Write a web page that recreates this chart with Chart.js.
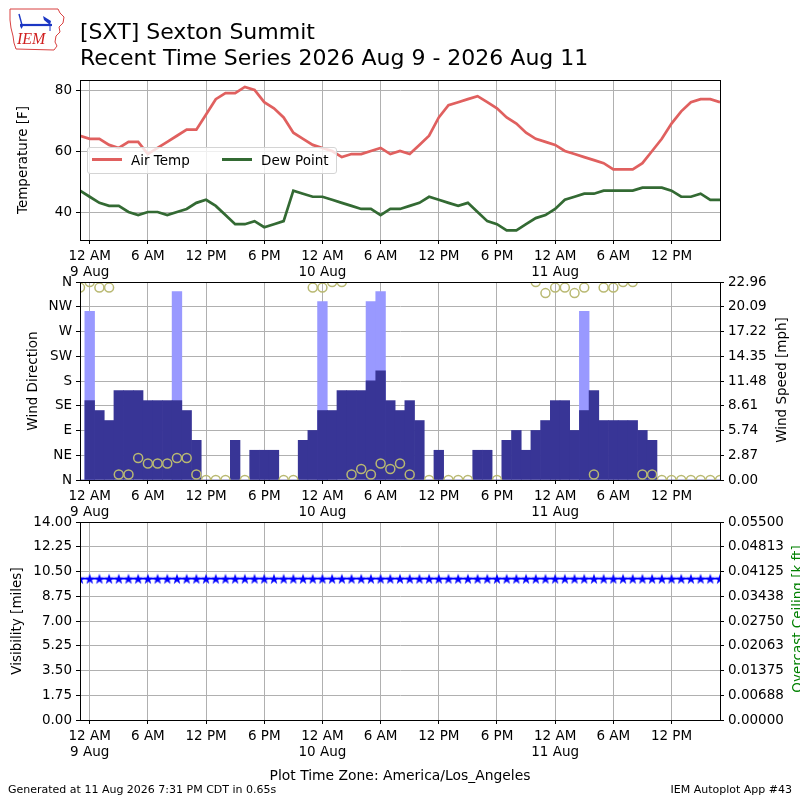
<!DOCTYPE html>
<html><head><meta charset="utf-8">
<script src="https://cdn.jsdelivr.net/npm/chart.js@4.4.1/dist/chart.umd.min.js"></script>
<style>
html,body{margin:0;padding:0;background:#fff;}
body{width:800px;height:800px;position:relative;overflow:hidden;font-family:'DejaVu Sans',sans-serif;color:#000;}
canvas{position:absolute;left:0;}
.t{position:absolute;white-space:nowrap;}
</style></head><body>
<canvas id="c1" width="800" height="300" style="top:0px"></canvas>
<canvas id="c2" width="800" height="270" style="top:270px"></canvas>
<canvas id="c3" width="800" height="270" style="top:510px"></canvas>

<svg style="position:absolute;left:8px;top:6px" width="60" height="46" viewBox="0 0 60 46">
  <path d="M2,3 L50,3 L52,7 L56,11 L55,17 L51,21 L52,26 L48,30 L47,36 L49,40 L46,44 L8,43 L6,37 L5,30 L3,22 L2,14 Z" fill="none" stroke="#d84040" stroke-width="1"/>
  <line x1="12" y1="19" x2="44" y2="19" stroke="#1b36c4" stroke-width="2.2"/>
  <line x1="11" y1="8" x2="14" y2="19" stroke="#1b36c4" stroke-width="1.4"/>
  <polygon points="35,10 43,15 42,19 36,14" fill="#1b36c4"/>
  <polygon points="12,20 15,20 13.5,23" fill="#1b36c4"/>
  <line x1="42" y1="19" x2="42" y2="25" stroke="#1b36c4" stroke-width="1"/>
  <text x="9" y="38" font-family="Liberation Serif" font-style="italic" font-size="16" fill="#d02020">IEM</text>
</svg>

<div class="t" id="title" style="left:80px;top:18.7px;font-size:22px;line-height:26px;">[SXT] Sexton Summit<br>Recent Time Series 2026 Aug 9 - 2026 Aug 11</div>

<div id="legend" style="position:absolute;left:87px;top:147px;width:250px;height:27px;box-sizing:border-box;background:rgba(255,255,255,0.8);border:1px solid #d4d4d4;border-radius:3px;font-size:13.5px;">
  <span style="position:absolute;left:4px;top:10px;width:30px;height:3px;background:#e0605f"></span>
  <span class="t" style="left:43px;top:0;line-height:25px;">Air Temp</span>
  <span style="position:absolute;left:134px;top:10px;width:30px;height:3px;background:#336a33"></span>
  <span class="t" style="left:173px;top:0;line-height:25px;">Dew Point</span>
</div>

<div class="t" style="left:781px;top:380px;font-size:13.5px;transform:translate(-50%,-50%) rotate(-90deg);">Wind Speed [mph]</div>
<div class="t" style="left:797px;top:619px;font-size:13.5px;color:#008000;transform:translate(-50%,-50%) rotate(-90deg);">Overcast Ceiling [k ft]</div>

<div class="t" style="left:0;width:800px;text-align:center;top:767px;font-size:13.9px;line-height:16px;">Plot Time Zone: America/Los_Angeles</div>
<div class="t" style="left:8px;top:783px;font-size:11px;line-height:13px;">Generated at 11 Aug 2026 7:31 PM CDT in 0.65s</div>
<div class="t" style="right:8px;top:783px;font-size:11px;line-height:13px;">IEM Autoplot App #43</div>

<script>
// ---- data (hours relative to 12 AM 9 Aug, America/Los_Angeles) ----
const hours = [-1,0,1,2,3,4,5,6,7,8,9,10,11,12,13,14,15,16,17,18,19,20,21,22,23,24,25,26,27,28,29,30,31,32,33,34,35,36,37,38,39,40,41,42,43,44,45,46,47,48,49,50,51,52,53,54,55,56,57,58,59,60,61,62,63,64,65];
const airTemp = [65,64,64,62,61,63,63,59,61,63,65,67,67,72,77,79,79,81,80,76,74,71,66,64,62,61,60,58,59,59,60,61,59,60,59,62,65,71,75,76,77,78,76,74,71,69,66,64,63,62,60,59,58,57,56,54,54,54,56,60,64,69,73,76,77,77,76];
const dewPoint = [47,45,43,42,42,40,39,40,40,39,40,41,43,44,42,39,36,36,37,35,36,37,47,46,45,45,44,43,42,41,41,39,41,41,42,43,45,44,43,42,43,40,37,36,34,34,36,38,39,41,44,45,46,46,47,47,47,47,48,48,48,47,45,45,46,44,44];
const windSpeed = [0,9.21,8.06,6.90,10.36,10.36,10.36,9.21,9.21,9.21,9.21,8.06,4.60,0,0,0,4.60,0,3.45,3.45,3.45,0,0,4.60,5.75,8.06,8.06,10.36,10.36,10.36,11.51,12.66,9.21,8.06,9.21,6.90,0,3.45,0,0,0,3.45,3.45,0,4.60,5.75,3.45,5.75,6.90,9.21,9.21,5.75,8.06,10.36,6.90,6.90,6.90,6.90,5.75,4.60,0,0,0,0,0,0,0];
const windGust = [null,19.56,null,null,null,null,null,null,null,null,21.86,null,null,null,null,null,null,null,null,null,null,null,null,null,null,20.71,null,null,null,null,20.71,21.86,null,null,null,null,null,null,null,null,null,null,null,null,null,null,null,null,null,null,null,null,19.56,null,null,null,null,null,null,null,null,null,null,null,null,null,null];
const windDir = [350,360,350,350,10,10,40,30,30,30,40,40,10,0,0,0,null,0,null,null,null,0,0,null,350,350,360,360,10,20,10,30,20,30,10,null,0,null,0,0,0,null,null,0,null,null,null,360,340,350,350,340,350,10,350,350,360,360,10,10,0,0,0,0,0,0,0];
const visibility = [10,10,10,10,10,10,10,10,10,10,10,10,10,10,10,10,10,10,10,10,10,10,10,10,10,10,10,10,10,10,10,10,10,10,10,10,10,10,10,10,10,10,10,10,10,10,10,10,10,10,10,10,10,10,10,10,10,10,10,10,10,10,10,10,10,10,10];

const tickHours = [0,6,12,18,24,30,36,42,48,54,60];
const xTickLabels = [['12 AM','9 Aug'],'6 AM','12 PM','6 PM',['12 AM','10 Aug'],'6 AM','12 PM','6 PM',['12 AM','11 Aug'],'6 AM','12 PM'];
const tempTicks = [40,60,80];
const dirTicks = [0,45,90,135,180,225,270,315,360];
const dirTickLabels = ['N','NE','E','SE','S','SW','W','NW','N'];
const speedTicks = [0,2.87,5.74,8.61,11.48,14.35,17.22,20.09,22.96];
const speedTickLabels = ['0.00','2.87','5.74','8.61','11.48','14.35','17.22','20.09','22.96'];
const visTicks = [0,1.75,3.5,5.25,7,8.75,10.5,12.25,14];
const visTickLabels = ['0.00','1.75','3.50','5.25','7.00','8.75','10.50','12.25','14.00'];
const ceilTicks = [0,0.006875,0.01375,0.020625,0.0275,0.034375,0.04125,0.048125,0.055];
const ceilTickLabels = ['0.00000','0.00688','0.01375','0.02063','0.02750','0.03438','0.04125','0.04813','0.05500'];

// ---- styling ----
const FONT = 'DejaVu Sans';
Chart.defaults.font.family = FONT;
Chart.defaults.color = '#000';
const tickFont = {family: FONT, size: 13.5};
const GRID = '#b0b0b0';

const pts = (arr) => hours.map((h, i) => ({x: h, y: arr[i]}));

function xAxis(z) {
  return {
    type: 'linear', min: -1, max: 65, offset: false, z: z || 0,
    afterBuildTicks: s => { s.ticks = tickHours.map(v => ({value: v})); },
    afterFit: s => { s.height = 60; },
    ticks: {autoSkip: false, maxRotation: 0, minRotation: 0, padding: 4, color: '#000', font: tickFont,
      callback: (v, i) => xTickLabels[i]},
    grid: {color: GRID, tickColor: '#000', tickLength: 4, lineWidth: 1, offset: false},
    border: {color: '#000', width: 1}
  };
}
function yAxis(pos, min, max, values, labels, title, pad, z, gridOn) {
  return {
    type: 'linear', position: pos, min: min, max: max, z: z || 0,
    afterBuildTicks: s => { s.ticks = values.map(v => ({value: v})); },
    afterFit: s => { s.width = 80; },
    ticks: {autoSkip: false, padding: 4, color: '#000', font: tickFont, callback: (v, i) => labels[i]},
    grid: {color: GRID, tickColor: '#000', tickLength: 4, lineWidth: 1, drawOnChartArea: gridOn !== false},
    border: {color: '#000', width: 1},
    title: {display: !!title, text: title, color: '#000', font: tickFont, padding: {top: pad || 0, bottom: 0}}
  };
}
const framePlugin = {
  id: 'frame',
  afterDraw(chart) {
    const a = chart.chartArea, ctx = chart.ctx;
    ctx.save();
    ctx.strokeStyle = '#000'; ctx.lineWidth = 1;
    const l = Math.round(a.left) + 0.5, t = Math.round(a.top) + 0.5;
    const r = Math.round(a.right) + 0.5, b = Math.round(a.bottom) + 0.5;
    ctx.strokeRect(l, t, r - l, b - t);
    ctx.restore();
  }
};
const basePlugins = {legend: {display: false}, tooltip: {enabled: false}};

// ---- panel 1: temperatures ----
new Chart(document.getElementById('c1'), {
  type: 'line',
  data: {datasets: [
    {label: 'Air Temp', data: pts(airTemp), borderColor: '#e0605f', borderWidth: 2.7, pointRadius: 0, tension: 0, clip: 0},
    {label: 'Dew Point', data: pts(dewPoint), borderColor: '#336a33', borderWidth: 2.7, pointRadius: 0, tension: 0, clip: 0}
  ]},
  options: {
    responsive: false, animation: false, devicePixelRatio: 1,
    layout: {padding: {top: 80, right: 80, left: 0, bottom: 0}},
    plugins: basePlugins,
    scales: {
      x: xAxis(0),
      y: yAxis('left', 30.82, 83.28, tempTicks, tempTicks.map(String), 'Temperature [F]', 15)
    }
  },
  plugins: [framePlugin]
});

// ---- panel 2: wind ----
new Chart(document.getElementById('c2'), {
  type: 'bar',
  data: {datasets: [
    {type: 'line', label: 'Wind Direction', data: pts(windDir), yAxisID: 'yDir', showLine: false,
     pointStyle: 'circle', pointRadius: 4.5, pointBorderWidth: 1.5, pointBorderColor: '#b9b972',
     pointBackgroundColor: 'rgba(0,0,0,0)', borderColor: '#b9b972', order: 0, clip: 0},
    {type: 'bar', label: 'Wind Speed', data: pts(windSpeed), yAxisID: 'ySpd', backgroundColor: '#383596',
     grouped: false, barPercentage: 1, categoryPercentage: 1, borderWidth: 0, order: 1, clip: 0},
    {type: 'bar', label: 'Wind Gust', data: pts(windGust), yAxisID: 'ySpd', backgroundColor: '#9999ff',
     grouped: false, barPercentage: 1, categoryPercentage: 1, borderWidth: 0, order: 2, clip: 0}
  ]},
  options: {
    responsive: false, animation: false, devicePixelRatio: 1,
    layout: {padding: {top: 10, right: 0, left: 0, bottom: 0}},
    plugins: basePlugins,
    scales: {
      x: xAxis(1),
      yDir: yAxis('left', 0, 360, dirTicks, dirTickLabels, 'Wind Direction', 25, 1),
      ySpd: yAxis('right', 0, 22.96, speedTicks, speedTickLabels, '', 0, 1, false)
    }
  },
  plugins: [framePlugin]
});

// ---- panel 3: visibility / ceiling ----
function makeStar(r, color) {
  const s = Math.ceil(r * 2 + 2);
  const c = document.createElement('canvas');
  c.width = s; c.height = s;
  const g = c.getContext('2d');
  g.fillStyle = color; g.beginPath();
  for (let k = 0; k < 10; k++) {
    const rr = (k % 2) ? r * 0.4 : r;
    const a = -Math.PI / 2 + k * Math.PI / 5;
    const px = s / 2 + rr * Math.cos(a), py = s / 2 + 0.6 + rr * Math.sin(a);
    if (k) g.lineTo(px, py); else g.moveTo(px, py);
  }
  g.closePath(); g.fill();
  return c;
}
const star = makeStar(5.6, '#0000ff');
new Chart(document.getElementById('c3'), {
  type: 'line',
  data: {datasets: [
    {label: 'Visibility', data: pts(visibility), yAxisID: 'yVis', borderColor: '#0000ff', borderWidth: 1.5,
     pointStyle: star, pointRadius: 5, tension: 0, clip: 0}
  ]},
  options: {
    responsive: false, animation: false, devicePixelRatio: 1,
    layout: {padding: {top: 10, right: 0, left: 0, bottom: 0}},
    plugins: basePlugins,
    scales: {
      x: xAxis(0),
      yVis: yAxis('left', 0, 14, visTicks, visTickLabels, 'Visibility [miles]', 9),
      yCeil: yAxis('right', 0, 0.055, ceilTicks, ceilTickLabels, '', 0, 0, false)
    }
  },
  plugins: [framePlugin]
});
</script>
</body></html>
